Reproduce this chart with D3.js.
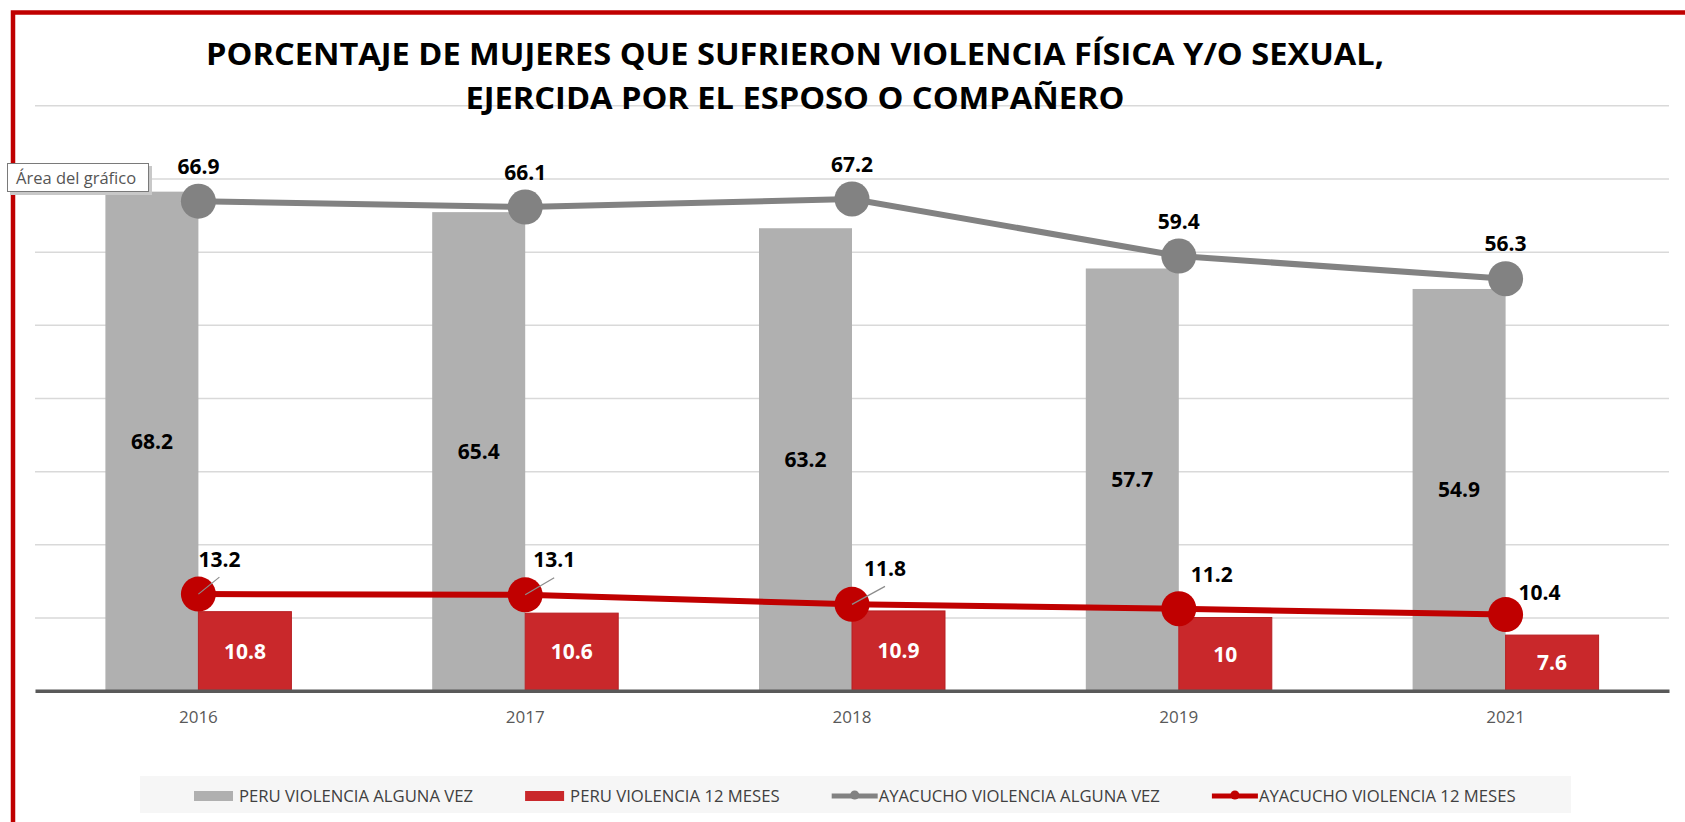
<!DOCTYPE html>
<html><head><meta charset="utf-8">
<script src="https://cdn.jsdelivr.net/npm/d3@7"></script>
<style>
html,body{margin:0;padding:0;background:#fff;overflow:hidden}
svg{display:block}
</style></head><body>
<svg id="chart" width="1685" height="822"></svg>
<script>
// ---- data ----
const categories = ["2016", "2017", "2018", "2019", "2021"];
const peruAlgunaVez = [68.2, 65.4, 63.2, 57.7, 54.9];
const peru12Meses = [10.8, 10.6, 10.9, 10, 7.6];
const ayacuchoAlgunaVez = [66.9, 66.1, 67.2, 59.4, 56.3];
const ayacucho12Meses = [13.2, 13.1, 11.8, 11.2, 10.4];
const yTicks = [10, 20, 30, 40, 50, 60, 70, 80];
const seriesNames = ["PERU VIOLENCIA ALGUNA VEZ", "PERU VIOLENCIA 12 MESES", "AYACUCHO VIOLENCIA ALGUNA VEZ", "AYACUCHO VIOLENCIA 12 MESES"];
const titleLines = ["PORCENTAJE DE MUJERES QUE SUFRIERON VIOLENCIA FÍSICA Y/O SEXUAL,", "EJERCIDA POR EL ESPOSO O COMPAÑERO"];
const tooltipText = "Área del gráfico";

// ---- layout / style (kept separate from data) ----
const W = 1685, H = 822;
const m = {l: 35, r: 1669, t: 105.3, b: 690.7};
const FONT = "'Open Sans', 'Noto Sans', sans-serif";
const C = {greyBar: "#b0b0b0", redBar: "#c9282b", redBarEdge: "#b71f22", greyLine: "#828282", redLine: "#c00000", grid: "#d9d9d9", axis: "#595959", frame: "#c00000"};
const redLabelNudge = [[21, -35, 1], [29, -35, 1], [33, -36, 1], [33, -34, 0], [34, -22, 0]];

const svg = d3.select("#chart");
const x = d3.scaleBand().domain(categories).range([m.l, m.r]);
const xs = d3.scaleBand().domain([0, 1]).range([0, x.bandwidth()]).paddingInner(0).paddingOuter(0.757);
const y = d3.scaleLinear().domain([0, 80]).range([m.b, m.t]);
const cx = c => x(c) + x.bandwidth() / 2;

// frame
svg.append("rect").attr("x", 13).attr("y", 12.5).attr("width", W).attr("height", H)
  .attr("fill", "none").attr("stroke", C.frame).attr("stroke-width", 4.5);

// gridlines
const gy = svg.append("g").attr("transform", `translate(${m.l},0)`)
  .call(d3.axisLeft(y).tickValues(yTicks).tickSize(-(m.r - m.l)).tickFormat(""));
gy.select(".domain").remove();
gy.selectAll(".tick line").attr("stroke", C.grid).attr("stroke-width", 1.5);

// title
const title = svg.append("g");
titleLines.forEach((t, i) => {
  title.append("text").attr("x", 795).attr("y", [65, 109][i])
    .attr("text-anchor", "middle").attr("font-family", FONT).attr("font-weight", 700)
    .attr("font-size", 31).attr("fill", "#000")
    .attr("textLength", [1178, 659][i]).attr("lengthAdjust", "spacingAndGlyphs")
    .text(t);
});

// bars
const barData = categories.map((c, i) => ({c, a: peruAlgunaVez[i], b: peru12Meses[i]}));
const bars = svg.append("g");
bars.selectAll("rect.g").data(barData).join("rect").attr("class", "g")
  .attr("x", d => x(d.c) + xs(0)).attr("width", xs.bandwidth())
  .attr("y", d => y(d.a)).attr("height", d => y(0) - y(d.a)).attr("fill", C.greyBar);
bars.selectAll("rect.r").data(barData).join("rect").attr("class", "r")
  .attr("x", d => x(d.c) + xs(1)).attr("width", xs.bandwidth())
  .attr("y", d => y(d.b)).attr("height", d => y(0) - y(d.b)).attr("fill", C.redBar)
  .attr("stroke", C.redBarEdge).attr("stroke-width", 1);

// x axis
const gx = svg.append("g").attr("transform", `translate(0,${y(0)})`)
  .call(d3.axisBottom(x).tickSize(0).tickSizeOuter(0).tickPadding(20));
gx.select(".domain").attr("stroke", C.axis).attr("stroke-width", 3.5);
gx.selectAll(".tick text").attr("font-family", FONT).attr("font-size", 17).attr("fill", "#595959");

// bar labels
const lblFont = sel => sel.attr("font-family", FONT).attr("font-weight", 700).attr("font-size", 21).attr("text-anchor", "middle");
bars.selectAll("text.g").data(barData).join("text").attr("class", "g").call(lblFont)
  .attr("x", d => x(d.c) + xs(0) + xs.bandwidth() / 2).attr("y", d => (y(d.a) + y(0)) / 2).attr("dy", "0.36em")
  .attr("fill", "#000").text(d => d.a);
bars.selectAll("text.r").data(barData).join("text").attr("class", "r").call(lblFont)
  .attr("x", d => x(d.c) + xs(1) + xs.bandwidth() / 2).attr("y", d => (y(d.b) + y(0)) / 2).attr("dy", "0.36em")
  .attr("fill", "#fff").text(d => d.b);

// lines
const line = d3.line().x(d => cx(d.c)).y(d => y(d.v));
const greyPts = categories.map((c, i) => ({c, v: ayacuchoAlgunaVez[i]}));
const redPts = categories.map((c, i) => ({c, v: ayacucho12Meses[i], n: redLabelNudge[i]}));
svg.append("path").datum(greyPts).attr("d", line).attr("fill", "none").attr("stroke", C.greyLine).attr("stroke-width", 6);
svg.append("g").selectAll("circle").data(greyPts).join("circle")
  .attr("cx", d => cx(d.c)).attr("cy", d => y(d.v)).attr("r", 17.5).attr("fill", C.greyLine);
svg.append("path").datum(redPts).attr("d", line).attr("fill", "none").attr("stroke", C.redLine).attr("stroke-width", 6);
svg.append("g").selectAll("circle").data(redPts).join("circle")
  .attr("cx", d => cx(d.c)).attr("cy", d => y(d.v)).attr("r", 17.5).attr("fill", C.redLine);

// line labels
svg.append("g").selectAll("text").data(greyPts).join("text").call(lblFont)
  .attr("x", d => cx(d.c)).attr("y", d => y(d.v) - 35).attr("dy", "0.36em").attr("fill", "#000").text(d => d.v);
const rl = svg.append("g");
rl.selectAll("line").data(redPts.filter(d => d.n[2])).join("line")
  .attr("x1", d => cx(d.c)).attr("y1", d => y(d.v))
  .attr("x2", d => cx(d.c) + d.n[0]).attr("y2", d => y(d.v) + d.n[1] + 18)
  .attr("stroke", "#8c8c8c").attr("stroke-width", 1.2);
rl.selectAll("text").data(redPts).join("text").call(lblFont)
  .attr("x", d => cx(d.c) + d.n[0]).attr("y", d => y(d.v) + d.n[1]).attr("dy", "0.36em").attr("fill", "#000").text(d => d.v);

// legend
const lg = svg.append("g");
lg.append("rect").attr("x", 140).attr("y", 776).attr("width", 1431).attr("height", 37).attr("fill", "#f6f6f6");
const ly = 796;
let lx = 194;
seriesNames.forEach((name, i) => {
  if (i < 2) {
    lg.append("rect").attr("x", lx).attr("y", ly - 5).attr("width", 39).attr("height", 10)
      .attr("fill", i === 0 ? C.greyBar : C.redBar);
    lx += 45;
  } else {
    const col = i === 2 ? C.greyLine : C.redLine;
    lg.append("line").attr("x1", lx).attr("x2", lx + 46).attr("y1", ly).attr("y2", ly)
      .attr("stroke", col).attr("stroke-width", 5);
    lg.append("circle").attr("cx", lx + 23).attr("cy", ly - 1).attr("r", 4.5).attr("fill", col);
    lx += 47;
  }
  const t = lg.append("text").attr("x", lx).attr("y", ly).attr("dy", "0.36em")
    .attr("font-family", FONT).attr("font-size", 16.7).attr("fill", "#404040").text(name);
  lx += t.node().getComputedTextLength() + 52;
});

// tooltip
const tt = svg.append("g");
tt.append("rect").attr("x", 10).attr("y", 166).attr("width", 142).attr("height", 29).attr("fill", "#c8c8c8");
tt.append("rect").attr("x", 7.5).attr("y", 163.5).attr("width", 141).attr("height", 28)
  .attr("fill", "#fff").attr("stroke", "#7a7a7a").attr("stroke-width", 1);
tt.append("text").attr("x", 16).attr("y", 178).attr("dy", "0.36em")
  .attr("font-family", FONT).attr("font-size", 16.5).attr("fill", "#555").text(tooltipText);
</script>
</body></html>
